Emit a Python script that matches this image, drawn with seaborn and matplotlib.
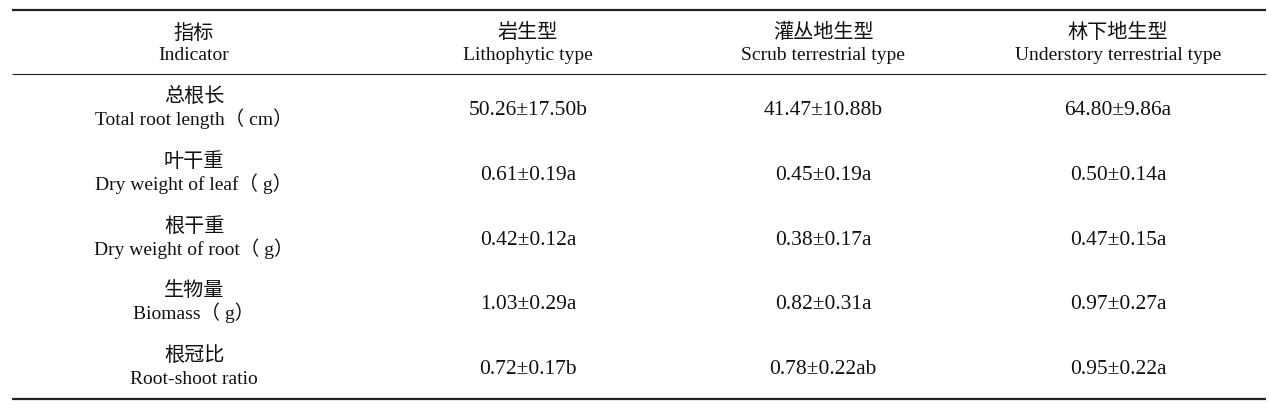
import seaborn as sns
import matplotlib.pyplot as plt
import pandas as pd

sns.set_theme(style="white")
plt.rcParams['font.family'] = ['Liberation Serif', 'Noto Sans CJK SC']

# table content
col_cn = ["指标", "岩生型", "灌丛地生型", "林下地生型"]
col_en = ["Indicator", "Lithophytic type", "Scrub terrestrial type", "Understory terrestrial type"]

ind_cn = ["总根长", "叶干重", "根干重", "生物量", "根冠比"]
ind_en = ["Total root length（ cm）", "Dry weight of leaf（ g）", "Dry weight of root（ g）",
          "Biomass（ g）", "Root-shoot ratio"]

litho_mean = [50.26, 0.61, 0.42, 1.03, 0.72]
litho_sd = [17.50, 0.19, 0.12, 0.29, 0.17]
litho_sig = ["b", "a", "a", "a", "b"]

scrub_mean = [41.47, 0.45, 0.38, 0.82, 0.78]
scrub_sd = [10.88, 0.19, 0.17, 0.31, 0.22]
scrub_sig = ["b", "a", "a", "a", "ab"]

under_mean = [64.80, 0.50, 0.47, 0.97, 0.95]
under_sd = [9.86, 0.14, 0.15, 0.27, 0.22]
under_sig = ["a", "a", "a", "a", "a"]

df = pd.DataFrame({
    "cn": ind_cn, "en": ind_en,
    "litho": [f"{m:.2f}±{s:.2f}{g}" for m, s, g in zip(litho_mean, litho_sd, litho_sig)],
    "scrub": [f"{m:.2f}±{s:.2f}{g}" for m, s, g in zip(scrub_mean, scrub_sd, scrub_sig)],
    "under": [f"{m:.2f}±{s:.2f}{g}" for m, s, g in zip(under_mean, under_sd, under_sig)],
})

# layout in pixel units
W, H = 1271, 409
col_x = [194, 528, 823, 1118]
row0, step = 115, 64.8
txt = "#111111"

fig = plt.figure(figsize=(W / 100, H / 100), dpi=100)
ax = fig.add_axes([0, 0, 1, 1])
ax.set_xlim(0, W)
ax.set_ylim(H, 0)
ax.axis('off')

# rules
ax.hlines([10, 399], 12, 1266, color="#222222", lw=1.6)
ax.hlines(74, 12, 1266, color="#222222", lw=0.8)

# header
for x, cn, en in zip(col_x, col_cn, col_en):
    ax.text(x, 38.5, cn, ha='center', va='baseline', fontsize=14.5, color=txt, fontweight='light')
    ax.text(x, 60, en, ha='center', va='baseline', fontsize=14, color=txt)

# body
for i, r in df.iterrows():
    yv = row0 + step * i
    ax.text(col_x[0], yv - 13, r["cn"], ha='center', va='baseline', fontsize=14.5, color=txt,
            fontweight='light')
    ax.text(col_x[0], yv + 10, r["en"], ha='center', va='baseline', fontsize=14, color=txt)
    for x, key in zip(col_x[1:], ["litho", "scrub", "under"]):
        ax.text(x, yv, r[key], ha='center', va='baseline', fontsize=15.5, color=txt)

fig.savefig("out.png", dpi=100)
